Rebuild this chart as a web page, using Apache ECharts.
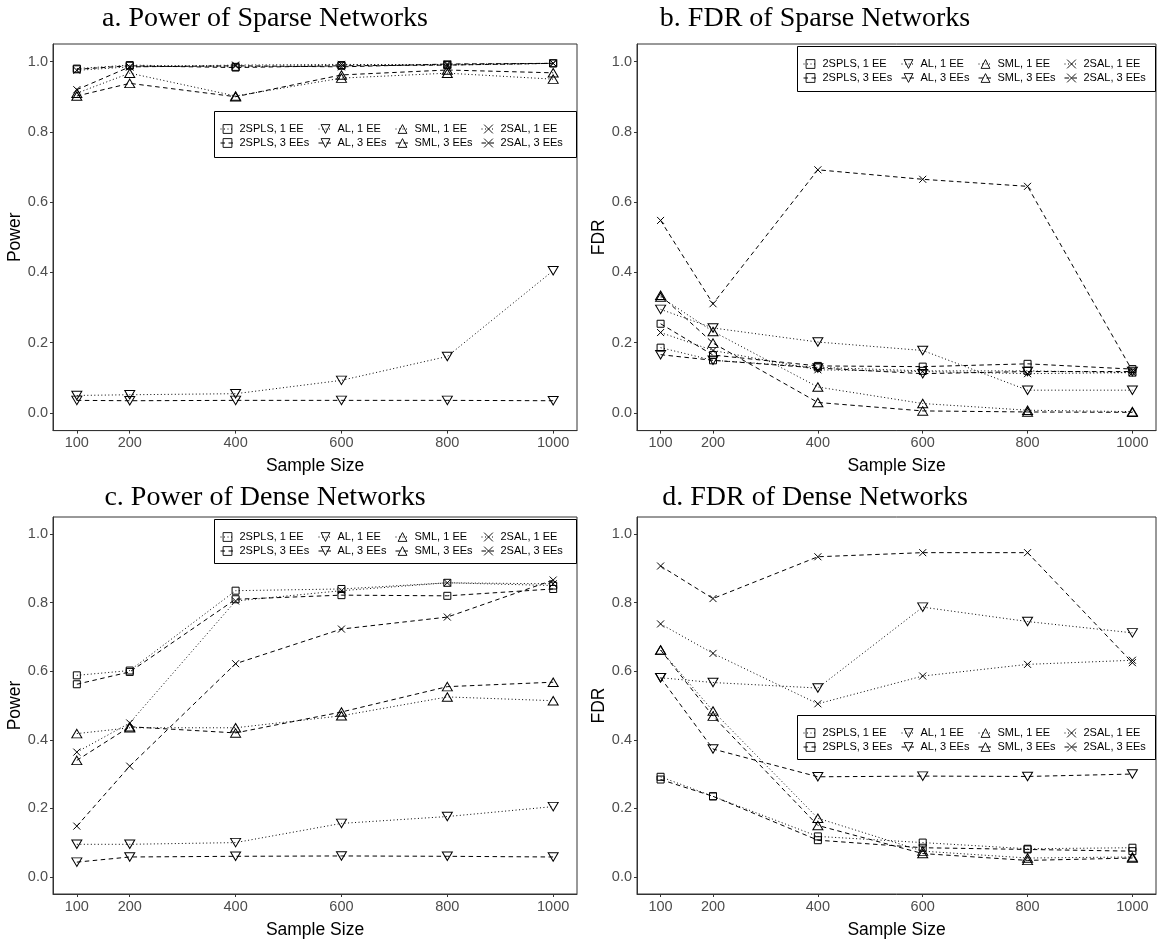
<!DOCTYPE html>
<html>
<head>
<meta charset="utf-8">
<script src="https://cdn.jsdelivr.net/npm/echarts@6/dist/echarts.min.js"></script>
<style>html,body{margin:0;padding:0;background:#fff}#c{width:1158px;height:940px}</style>
</head>
<body>
<div id="c"></div>
<script>
// ---------- data ----------
const sampleSizes = [100, 200, 400, 600, 800, 1000];
const yTicks = [0, 0.2, 0.4, 0.6, 0.8, 1.0];
const methods = ['2SPLS', 'AL', 'SML', '2SAL'];
const settings = ['1 EE', '3 EEs'];
const panelTitles = ['a. Power of Sparse Networks', 'b. FDR of Sparse Networks',
                     'c. Power of Dense Networks', 'd. FDR of Dense Networks'];
const yNames = ['Power', 'FDR', 'Power', 'FDR'];

// a. Power, sparse
const a_2SPLS_1 = [0.980, 0.990, 0.985, 0.990, 0.992, 0.995];
const a_2SPLS_3 = [0.978, 0.988, 0.983, 0.988, 0.990, 0.995];
const a_AL_1    = [0.050, 0.052, 0.055, 0.093, 0.161, 0.405];
const a_AL_3    = [0.036, 0.035, 0.036, 0.036, 0.036, 0.035];
const a_SML_1   = [0.910, 0.967, 0.902, 0.953, 0.967, 0.950];
const a_SML_3   = [0.902, 0.938, 0.900, 0.962, 0.976, 0.968];
const a_2SAL_1  = [0.975, 0.985, 0.990, 0.992, 0.990, 0.995];
const a_2SAL_3  = [0.920, 0.985, 0.988, 0.985, 0.993, 0.995];

// b. FDR, sparse
const b_2SPLS_1 = [0.186, 0.150, 0.130, 0.120, 0.120, 0.115];
const b_2SPLS_3 = [0.254, 0.165, 0.134, 0.132, 0.140, 0.125];
const b_AL_1    = [0.295, 0.242, 0.202, 0.178, 0.065, 0.065];
const b_AL_3    = [0.166, 0.150, 0.128, 0.112, 0.118, 0.118];
const b_SML_1   = [0.330, 0.232, 0.074, 0.027, 0.008, 0.004];
const b_SML_3   = [0.335, 0.199, 0.030, 0.006, 0.003, 0.002];
const b_2SAL_1  = [0.229, 0.178, 0.123, 0.118, 0.112, 0.115];
const b_2SAL_3  = [0.548, 0.311, 0.692, 0.665, 0.645, 0.120];

// c. Power, dense
const c_2SPLS_1 = [0.588, 0.602, 0.835, 0.840, 0.858, 0.850];
const c_2SPLS_3 = [0.562, 0.598, 0.810, 0.822, 0.820, 0.840];
const c_AL_1    = [0.095, 0.095, 0.100, 0.156, 0.176, 0.205];
const c_AL_3    = [0.043, 0.058, 0.060, 0.061, 0.060, 0.058];
const c_SML_1   = [0.418, 0.435, 0.435, 0.470, 0.525, 0.514];
const c_SML_3   = [0.340, 0.438, 0.420, 0.481, 0.555, 0.568];
const c_2SAL_1  = [0.364, 0.449, 0.805, 0.835, 0.858, 0.855];
const c_2SAL_3  = [0.148, 0.323, 0.622, 0.723, 0.758, 0.866];

// d. FDR, dense
const d_2SPLS_1 = [0.292, 0.235, 0.118, 0.100, 0.082, 0.085];
const d_2SPLS_3 = [0.284, 0.235, 0.107, 0.085, 0.080, 0.075];
const d_AL_1    = [0.581, 0.567, 0.551, 0.787, 0.745, 0.712];
const d_AL_3    = [0.581, 0.373, 0.292, 0.294, 0.293, 0.300];
const d_SML_1   = [0.662, 0.484, 0.171, 0.075, 0.055, 0.058];
const d_SML_3   = [0.662, 0.469, 0.150, 0.068, 0.048, 0.055];
const d_2SAL_1  = [0.738, 0.652, 0.505, 0.586, 0.620, 0.632];
const d_2SAL_3  = [0.907, 0.812, 0.934, 0.946, 0.946, 0.625];

const panelData = [
  [a_2SPLS_1, a_2SPLS_3, a_AL_1, a_AL_3, a_SML_1, a_SML_3, a_2SAL_1, a_2SAL_3],
  [b_2SPLS_1, b_2SPLS_3, b_AL_1, b_AL_3, b_SML_1, b_SML_3, b_2SAL_1, b_2SAL_3],
  [c_2SPLS_1, c_2SPLS_3, c_AL_1, c_AL_3, c_SML_1, c_SML_3, c_2SAL_1, c_2SAL_3],
  [d_2SPLS_1, d_2SPLS_3, d_AL_1, d_AL_3, d_SML_1, d_SML_3, d_2SAL_1, d_2SAL_3]
];

// ---------- styling / layout ----------
const symbols = {
  '2SPLS': {symbol: 'rect', size: 7, rotate: 0},
  'AL':    {symbol: 'triangle', size: [10, 8.5], rotate: 180},
  'SML':   {symbol: 'triangle', size: [10, 8.5], rotate: 0},
  '2SAL':  {symbol: 'path://M0,0L10,10M10,0L0,10', size: 7, rotate: 0}
};
const lineTypes = {'1 EE': [1, 2.5], '3 EEs': [4.5, 3.5]};

const grids = [
  {left: 53,  top: 44,  width: 524, height: 386.6},
  {left: 637, top: 44,  width: 519, height: 386.6},
  {left: 53,  top: 517, width: 524, height: 386.6},
  {left: 637, top: 517, width: 519, height: 386.6}
];
const legendBoxes = [
  {left: 214, top: 111, width: 363, height: 46},
  {left: 797, top: 46,  width: 359, height: 45},
  {left: 214, top: 519, width: 363, height: 44},
  {left: 797, top: 715, width: 359, height: 44}
];
const titlePos = [[265, 19], [815, 19], [265, 498], [815, 498]];
const colOffsets = [6, 104, 181, 267];

const FONT = 'Liberation Sans, Arial, sans-serif';

const option = {
  animation: false,
  backgroundColor: '#fff',
  grid: grids.map(g => Object.assign({show: true, borderColor: '#333', borderWidth: 1, backgroundColor: 'transparent'}, g)),
  xAxis: grids.map((g, i) => ({
    type: 'value', gridIndex: i, min: 55, max: 1045,
    name: 'Sample Size', nameLocation: 'middle', nameGap: 27,
    nameTextStyle: {color: '#000', fontSize: 17.5, fontFamily: FONT},
    axisLine: {show: true, onZero: false, lineStyle: {color: '#333', width: 1}},
    axisTick: {show: true, length: 3, lineStyle: {color: '#333'}, customValues: sampleSizes},
    axisLabel: {color: '#4D4D4D', fontSize: 14.5, fontFamily: FONT, margin: 5,
                customValues: sampleSizes, formatter: v => String(Math.round(v))},
    splitLine: {show: false}
  })),
  yAxis: grids.map((g, i) => ({
    type: 'value', gridIndex: i, min: -0.05, max: 1.05,
    name: yNames[i], nameLocation: 'middle', nameGap: 22,
    nameTextStyle: {color: '#000', fontSize: 17.5, fontFamily: FONT},
    axisLine: {show: true, onZero: false, lineStyle: {color: '#333', width: 1}},
    axisTick: {show: true, length: 3, lineStyle: {color: '#333'}, customValues: yTicks},
    axisLabel: {color: '#4D4D4D', fontSize: 14.5, fontFamily: FONT, margin: 5,
                customValues: yTicks, formatter: v => Number(v).toFixed(1)},
    splitLine: {show: false}
  })),
  legend: [],
  series: [],
  graphic: []
};

panelData.forEach((arrs, p) => {
  let k = 0;
  methods.forEach(m => {
    settings.forEach(s => {
      const vals = arrs[k++];
      const sym = symbols[m];
      option.series.push({
        type: 'line',
        name: m + ', ' + s,
        xAxisIndex: p, yAxisIndex: p,
        data: sampleSizes.map((x, i) => [x, vals[i]]),
        symbol: sym.symbol, symbolSize: sym.size, symbolRotate: sym.rotate,
        showSymbol: true,
        lineStyle: {color: '#000', width: 1, type: lineTypes[s]},
        itemStyle: {color: 'transparent', borderColor: '#000', borderWidth: 1},
        emphasis: {disabled: true},
        z: 2
      });
    });
  });
  const lb = legendBoxes[p];
  methods.forEach((m, ci) => {
    option.legend.push({
      orient: 'vertical',
      left: lb.left + colOffsets[ci], top: lb.top + 11.5,
      padding: 0, itemGap: 1, itemWidth: 14, itemHeight: 11,
      selectedMode: false,
      itemStyle: {borderWidth: 0.9, borderColor: '#000', color: 'transparent'},
      lineStyle: {width: 1, color: '#000'},
      data: settings.map(s => m + ', ' + s),
      textStyle: {color: '#000', fontSize: 11, lineHeight: 13, fontFamily: FONT}
    });
  });
  option.graphic.push({
    type: 'rect', z: 10,
    shape: {x: lb.left + 0.5, y: lb.top + 0.5, width: lb.width - 1, height: lb.height},
    style: {fill: 'transparent', stroke: '#000', lineWidth: 1}
  });
  option.graphic.push({
    type: 'text', z: 10, x: titlePos[p][0], y: titlePos[p][1],
    style: {text: panelTitles[p], fill: '#000', font: '28px "Liberation Serif", serif',
            textAlign: 'center', textVerticalAlign: 'middle'}
  });
});

const chart = echarts.init(document.getElementById('c'), null, {renderer: 'canvas'});
chart.setOption(option);
</script>
</body>
</html>
